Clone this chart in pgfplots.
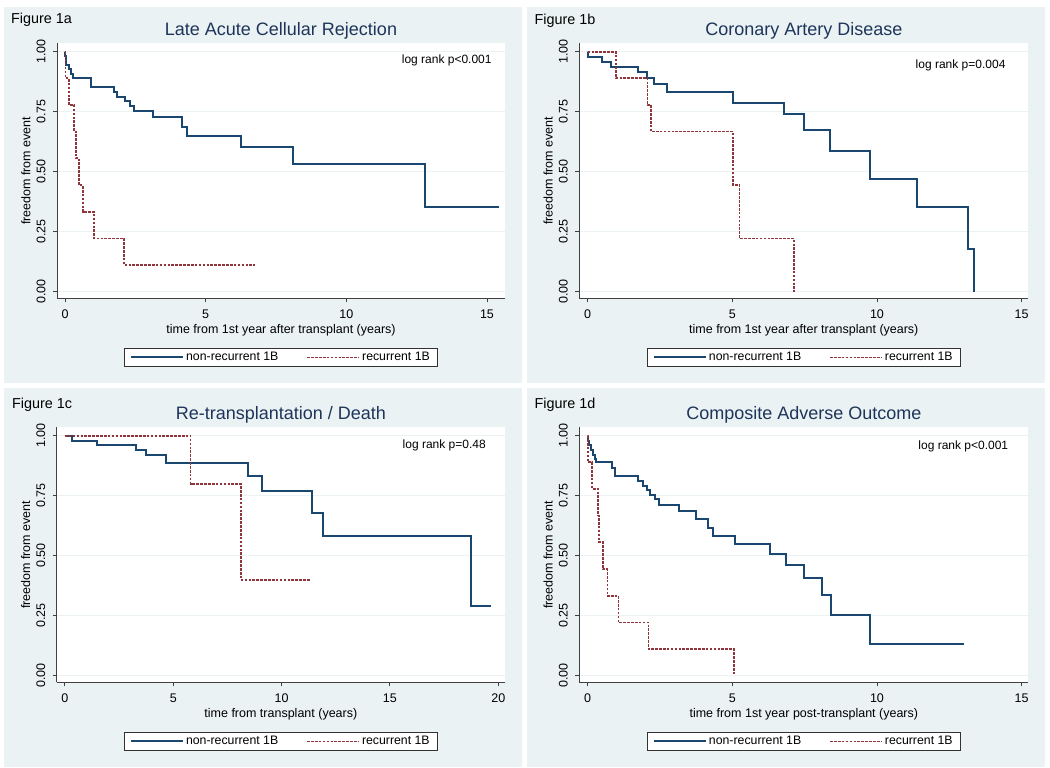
\documentclass[border=0pt]{standalone}
\usepackage{fontspec}
\setmainfont{Liberation Sans}
\usepackage{pgfplots}
\pgfplotsset{compat=1.18}

\definecolor{panelbg}{RGB}{234,242,243}
\definecolor{gridc}{RGB}{234,242,243}
\definecolor{navyline}{RGB}{26,71,111}
\definecolor{maroonline}{RGB}{144,53,59}
\definecolor{titlec}{RGB}{30,52,90}

\pgfplotsset{
  km/.style={
    scale only axis, height=255pt, anchor=north west,
    axis x line*=bottom, axis y line*=left,
    axis line style={-, black!75, line width=0.9pt},
    axis background/.style={fill=white},
    ymin=-0.0275, ymax=1.035,
    ytick={0,0.25,0.5,0.75,1},
    ymajorgrids, grid style={gridc, line width=0.9pt},
    tick align=outside, major tick length=4pt,
    tick style={black!75, line width=0.9pt},
    tick label style={font=\fontsize{12.5}{14}\selectfont},
    /pgf/number format/assume math mode=true,
    yticklabel style={/pgf/number format/fixed, /pgf/number format/fixed zerofill,
      /pgf/number format/precision=2, rotate=90, anchor=south},
    yticklabel shift=4pt, xticklabel shift=4pt,
    ylabel={freedom from event},
    every axis y label/.style={font=\fontsize{12.5}{14}\selectfont,
      at={(axis description cs:-0.0692,0.5)}, anchor=center, rotate=90},
    every axis x label/.style={font=\fontsize{12.5}{14}\selectfont,
      at={(axis description cs:0.5,-0.124)}, anchor=center},
    every axis title/.style={font=\fontsize{18}{20}\selectfont, text=titlec,
      at={(0.5,1)}, anchor=center, yshift=12pt},
    legend style={at={(0.5,-0.195)}, anchor=north, legend columns=2, draw=black!80,
      line width=0.7pt, fill=white, font=\fontsize{12.3}{14}\selectfont,
      inner xsep=6pt,
      /tikz/every even column/.append style={column sep=26pt}},
    legend image code/.code={\draw[#1] (0pt,0pt) -- (48pt,0pt); \path (0pt,0pt) -- (52pt,0pt);},
    legend cell align=left,
  },
  nonrec/.style={const plot, no marks, navyline, line width=2pt},
  rec/.style={const plot, no marks, maroonline, line width=1.7pt, dash pattern=on 2.6pt off 1.3pt},
}

\begin{document}
\begin{tikzpicture}
\fill[white] (0pt,0pt) rectangle (1050pt,-768pt);
\fill[panelbg] (4pt,-7pt) rectangle (522pt,-383pt);
\fill[panelbg] (527pt,-7pt) rectangle (1045pt,-383pt);
\fill[panelbg] (4pt,-388pt) rectangle (522pt,-767pt);
\fill[panelbg] (527pt,-388pt) rectangle (1045pt,-767pt);

\node[anchor=west, font=\fontsize{14.4}{16}\selectfont] at (7.5pt,-20pt) {Figure 1a};
\node[anchor=west, font=\fontsize{14.4}{16}\selectfont] at (531pt,-20.5pt) {Figure 1b};
\node[anchor=west, font=\fontsize{14.4}{16}\selectfont] at (8.5pt,-404.5pt) {Figure 1c};
\node[anchor=west, font=\fontsize{14.4}{16}\selectfont] at (531pt,-404.5pt) {Figure 1d};

% Figure 1a
\begin{axis}[km, at={(57pt,-43.3pt)}, width=448pt,
  xmin=-0.284, xmax=15.64, xtick={0,5,10,15},
  title={Late Acute Cellular Rejection},
  xlabel={time from 1st year after transplant (years)}]
\addplot[nonrec] coordinates {(0,1) (0.01,0.981) (0.04,0.944) (0.13,0.926) (0.2,0.907)
  (0.27,0.889) (0.92,0.852) (1.74,0.833) (1.84,0.812) (2.13,0.793) (2.31,0.772)
  (2.45,0.752) (3.12,0.726) (4.16,0.688) (4.33,0.65) (6.27,0.605) (8.12,0.532)
  (12.8,0.354) (15.43,0.354)};
\addlegendentry{non-recurrent 1B}
\addplot[rec] coordinates {(0,1) (0.02,0.889) (0.14,0.778) (0.33,0.667) (0.39,0.556)
  (0.5,0.444) (0.63,0.333) (1.03,0.222) (2.1,0.111) (6.75,0.111)};
\addlegendentry{recurrent 1B}
\node[anchor=east, font=\fontsize{12}{14}\selectfont] at (rel axis cs:0.978,0.931) {log rank p<0.001};
\end{axis}

% Figure 1b
\begin{axis}[km, at={(579.3pt,-43.3pt)}, width=449pt,
  xmin=-0.29, xmax=15.23, xtick={0,5,10,15},
  title={Coronary Artery Disease},
  xlabel={time from 1st year after transplant (years)}]
\addplot[nonrec] coordinates {(0,1) (0.02,0.979) (0.51,0.958) (0.81,0.9375) (1.73,0.917)
  (2.04,0.889) (2.29,0.864) (2.75,0.832) (5.03,0.785) (6.8,0.739) (7.47,0.674)
  (8.39,0.588) (9.77,0.471) (11.38,0.354) (13.13,0.177) (13.36,0)};
\addlegendentry{non-recurrent 1B}
\addplot[rec] coordinates {(0,1) (0.97,0.889) (2.07,0.778) (2.19,0.667) (5.02,0.444)
  (5.25,0.222) (7.12,0)};
\addlegendentry{recurrent 1B}
\node[anchor=east, font=\fontsize{12}{14}\selectfont] at (rel axis cs:0.957,0.912) {log rank p=0.004};
\end{axis}

% Figure 1c
\begin{axis}[km, at={(56.7pt,-427.3pt)}, width=448.3pt,
  xmin=-0.38, xmax=20.31, xtick={0,5,10,15,20},
  title={Re-transplantation / Death},
  xlabel={time from transplant (years)}]
\addplot[nonrec] coordinates {(0,1) (0.31,0.979) (1.46,0.9625) (3.28,0.942) (3.72,0.921)
  (4.66,0.885) (8.46,0.833) (9.11,0.771) (11.42,0.678) (11.89,0.582) (18.72,0.291)
  (19.66,0.291)};
\addlegendentry{non-recurrent 1B}
\addplot[rec] coordinates {(0,1) (5.8,0.8) (8.11,0.4) (11.34,0.4)};
\addlegendentry{recurrent 1B}
\node[anchor=east, font=\fontsize{12}{14}\selectfont] at (rel axis cs:0.965,0.929) {log rank p=0.48};
\end{axis}

% Figure 1d
\begin{axis}[km, at={(579.3pt,-427.3pt)}, width=449pt,
  xmin=-0.29, xmax=15.23, xtick={0,5,10,15},
  title={Composite Adverse Outcome},
  xlabel={time from 1st year post-transplant (years)}]
\addplot[nonrec] coordinates {(0,1) (0.02,0.98) (0.05,0.96) (0.1,0.94) (0.17,0.92)
  (0.25,0.905) (0.3,0.889) (0.83,0.867) (0.945,0.833) (1.75,0.811) (1.9,0.792)
  (2.04,0.774) (2.17,0.753) (2.33,0.735) (2.47,0.7125) (3.16,0.6875) (3.76,0.654)
  (4.17,0.617) (4.32,0.582) (5.08,0.547) (6.29,0.508) (6.84,0.4625) (7.49,0.4056)
  (8.11,0.3375) (8.41,0.254) (9.77,0.1306) (13.02,0.1306)};
\addlegendentry{non-recurrent 1B}
\addplot[rec] coordinates {(0,1) (0.02,0.889) (0.16,0.778) (0.36,0.667) (0.39,0.556)
  (0.52,0.444) (0.68,0.333) (1.06,0.222) (2.1,0.111) (5.05,0)};
\addlegendentry{recurrent 1B}
\node[anchor=east, font=\fontsize{12}{14}\selectfont] at (rel axis cs:0.963,0.925) {log rank p<0.001};
\end{axis}
\end{tikzpicture}
\end{document}
